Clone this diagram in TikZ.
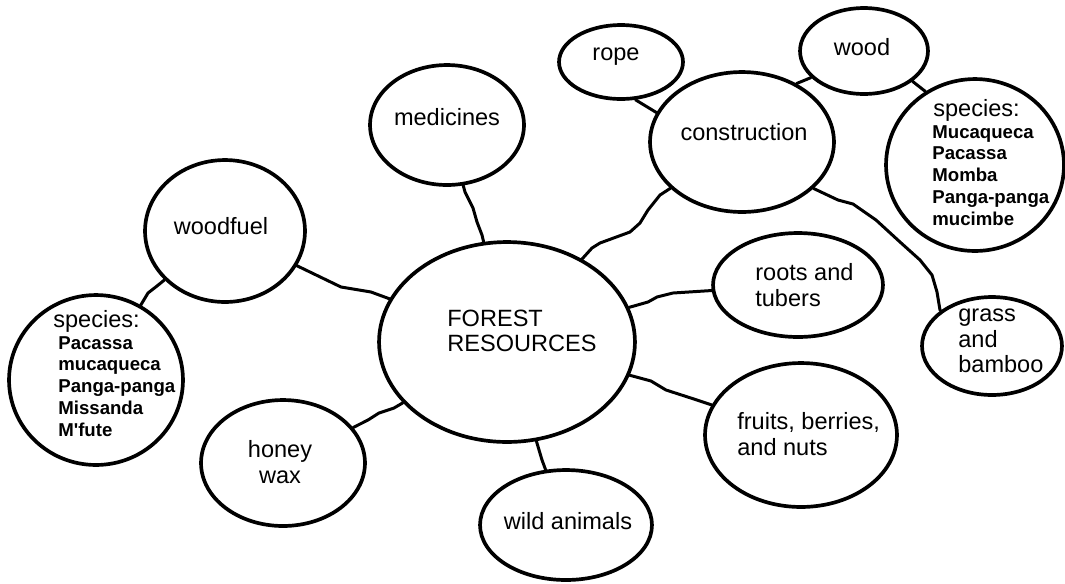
\documentclass[tikz,border=0pt]{standalone}
\usepackage{fontspec}
\setmainfont{Liberation Sans}
\usetikzlibrary{shapes.geometric}

\begin{document}
\begin{tikzpicture}[x=0.02cm, y=-0.02cm,
    bub/.style 2 args={draw, ellipse, line width=2.1pt, inner sep=0pt,
        minimum width=#1*0.04cm, minimum height=#2*0.04cm},
    lbl/.style={inner sep=0pt, align=left, font=\fontsize{13.4}{14.6}\selectfont},
    spc/.style={inner sep=0pt, align=left, font=\fontsize{10.6}{12.4}\selectfont\bfseries},
    link/.style={line width=1.7pt, line join=round, line cap=round}]
    \useasboundingbox (0,0) rectangle (1065,583);
    \node[bub={128}{100}] (fr) at (507,342) {};
    \node[bub={80}{71}] (wf) at (225,231) {};
    \node[bub={87}{85}] (sl) at (96,380) {};
    \node[bub={82}{63}] (hw) at (283,463) {};
    \node[bub={86}{55}] (wa) at (566,525) {};
    \node[bub={77}{60}] (md) at (447,125) {};
    \node[bub={92}{70}] (co) at (742,142) {};
    \node[bub={62}{37}] (rp) at (621,62) {};
    \node[bub={64}{43}] (wd) at (864,51) {};
    \node[bub={89}{86}] (sr) at (975,165) {};
    \node[bub={85}{52}] (rt) at (798,285) {};
    \node[bub={96}{72}] (fb) at (801,435) {};
    \node[bub={70}{49}] (gb) at (992,346) {};
    \node[lbl, anchor=west] (fr-t) at (447,331) {FOREST\\RESOURCES};
    \node[lbl] (wf-t) at (221,226) {woodfuel};
    \node[lbl] (md-t) at (447,117) {medicines};
    \node[lbl] (co-t) at (744,132) {construction};
    \node[lbl] (rp-t) at (616,57) {rope};
    \node[lbl] (wd-t) at (862,47) {wood};
    \node[lbl, anchor=west] (rt-t) at (755,285) {roots and\\tubers};
    \node[lbl, anchor=west] (gb-t) at (958,341) {grass\\and\\bamboo};
    \node[lbl, anchor=west] (fb-t) at (737,434) {fruits, berries,\\and nuts};
    \node[lbl] (wa-t) at (568,521) {wild animals};
    \node[lbl, align=center] (hw-t) at (280,462) {honey\\wax};
    \node[lbl, anchor=west] (sl-t) at (53,321) {species:};
    \node[spc, anchor=north west] (sl-l) at (58,336) {Pacassa\\mucaqueca\\Panga-panga\\Missanda\\M\textquotesingle fute};
    \node[lbl, anchor=west] (sr-t) at (933,110) {species:};
    \node[spc, anchor=north west] (sr-l) at (932,125) {Mucaqueca\\Pacassa\\Momba\\Panga-panga\\mucimbe};
    \draw[link] (wf) -- (341,287) -- (371,292) -- (fr);
    \draw[link] (wf) -- (157,286) -- (148,293) -- (sl);
    \draw[link] (hw) -- (368,420) -- (379,413) -- (394,408) -- (fr);
    \draw[link] (fr) -- (542,460) -- (wa);
    \draw[link] (md) -- (465,192) -- (473,208) -- (477,222) -- (482,235) -- (fr);
    \draw[link] (co) -- (660,195) -- (648,210) -- (640,223) -- (630,232) -- (600,243) -- (592,248) -- (fr);
    \draw[link] (rp.-69) -- (co.161);
    \draw[link] (co.47) -- (810,78) -- (wd);
    \draw[link] (wd.-32) -- (sr.124);
    \draw[link] (co.-33) -- (838,200) -- (853,204) -- (876,220) -- (900,242) -- (920,260) -- (932,275) -- (937,292) -- (940,310) -- (gb);
    \draw[link] (fr) -- (648,302) -- (657,297) -- (673,293) -- (rt);
    \draw[link] (fr) -- (651,381) -- (666,390) -- (697,400) -- (fb);
\end{tikzpicture}
\end{document}
